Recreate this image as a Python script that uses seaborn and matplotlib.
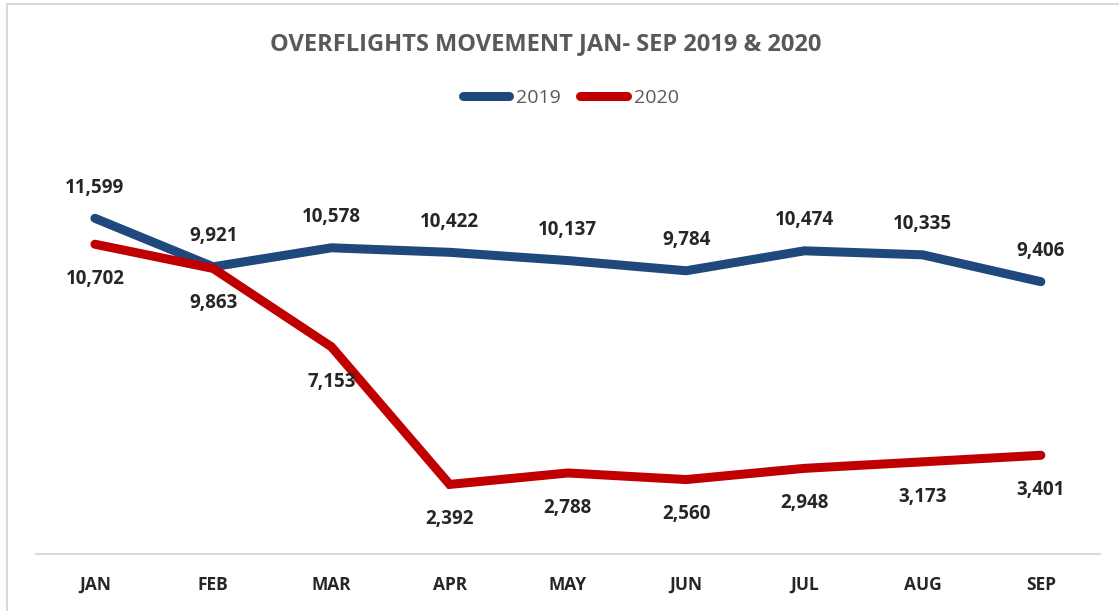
import pandas as pd
import matplotlib
matplotlib.use('Agg')
import matplotlib.pyplot as plt
import seaborn as sns
from matplotlib.lines import Line2D

months = ["JAN", "FEB", "MAR", "APR", "MAY", "JUN", "JUL", "AUG", "SEP"]
flights_2019 = [11599, 9921, 10578, 10422, 10137, 9784, 10474, 10335, 9406]
flights_2020 = [10702, 9863, 7153, 2392, 2788, 2560, 2948, 3173, 3401]
years = ["2019", "2020"]
colors = {"2019": "#1F497D", "2020": "#C00000"}

df = pd.DataFrame({
    "month": months * 2,
    "flights": flights_2019 + flights_2020,
    "year": [years[0]] * len(months) + [years[1]] * len(months),
})

sns.set_style("white")
plt.rcParams['font.family'] = ['Open Sans', 'DejaVu Sans']

fig = plt.figure(figsize=(11.19, 6.11), dpi=100)
ax = fig.add_axes([0.032, 0.094, 0.951, 0.668])

sns.lineplot(data=df, x="month", y="flights", hue="year", palette=colors,
             linewidth=6.5, sort=False, legend=False, ax=ax,
             solid_capstyle="round", solid_joinstyle="miter")

ax.set_xlim(-0.5, len(months) - 0.5)
ax.set_ylim(0, 14120)
ax.set_xlabel("")
ax.set_ylabel("")
ax.set_yticks([])
ax.set_xticks(range(len(months)))
ax.set_xticklabels(months, fontweight="bold", fontsize=12.5)
ax.tick_params(axis="x", length=0, pad=16)

for s in ["top", "right", "left"]:
    ax.spines[s].set_visible(False)
ax.spines["bottom"].set_color("#D9D9D9")
ax.spines["bottom"].set_linewidth(1.5)

# data labels: 2019 above the line, 2020 below
for i, (a, b) in enumerate(zip(flights_2019, flights_2020)):
    ax.annotate(f"{a:,}", (i, a), xytext=(0, 22), textcoords="offset points",
                ha="center", va="center", fontsize=13.5, fontweight="bold")
    ax.annotate(f"{b:,}", (i, b), xytext=(0, -25), textcoords="offset points",
                ha="center", va="center", fontsize=13.5, fontweight="bold")

fig.text(0.488, 0.928, "OVERFLIGHTS MOVEMENT JAN- SEP 2019 & 2020",
         ha="center", va="center", fontsize=17, fontweight="bold", color="#595959")

handles = [Line2D([], [], color=colors[y], linewidth=6.5, solid_capstyle="round") for y in years]
fig.legend(handles, years, loc="center", bbox_to_anchor=(0.51, 0.84), ncol=2,
           frameon=False, fontsize=14, handlelength=2.4, columnspacing=1.0,
           handletextpad=0.35, labelcolor="#595959")

# chart border
fig.add_artist(Line2D([0.006, 0.006], [0, 0.994], color="#D9D9D9", linewidth=1.5))
fig.add_artist(Line2D([0.006, 1], [0.994, 0.994], color="#D9D9D9", linewidth=1.5))

fig.savefig("out.png", dpi=100)
